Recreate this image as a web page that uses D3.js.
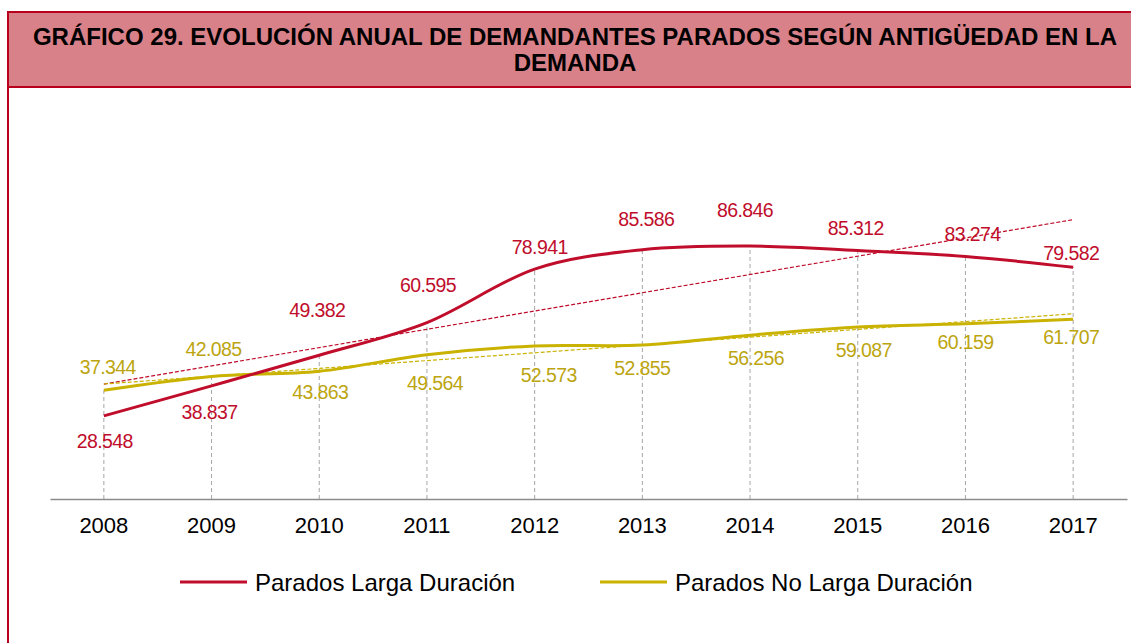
<!DOCTYPE html>
<html>
<head>
<meta charset="utf-8">
<script src="https://cdn.jsdelivr.net/npm/d3@7"></script>
<style>
  body { margin: 0; background: #fff; }
  text { font-family: "Liberation Sans", Arial, sans-serif; }
</style>
</head>
<body>
<div id="chart"></div>
<script>
// Data
var years = ["2008", "2009", "2010", "2011", "2012", "2013", "2014", "2015", "2016", "2017"];
var largaDuracion = [28548, 38837, 49382, 60595, 78941, 85586, 86846, 85312, 83274, 79582];
var noLargaDuracion = [37344, 42085, 43863, 49564, 52573, 52855, 56256, 59087, 60159, 61707];
var seriesNames = ["Parados Larga Duración", "Parados No Larga Duración"];
var titleLines = ["GRÁFICO 29. EVOLUCIÓN ANUAL DE DEMANDANTES PARADOS SEGÚN ANTIGÜEDAD EN LA", "DEMANDA"];

// Label nudges (layout only), [dx, dy] from the point
var nudgeLD = [[1, 32], [-2, 33], [-2, -38], [1, -31], [5, -15], [4, -24], [-5, -29], [-2, -16], [7, -16], [-2, -7]];
var nudgeNLD = [[4, -16], [2, -20], [1, 28], [8, 35], [14, 36], [0, 30], [6, 30], [6, 30], [0, 25], [-2, 25]];

var W = 1131, H = 643;
var red = "#C00D2B", yellow = "#C9B200", yellowText = "#BCA510", border = "#B8001C";

var svg = d3.select("#chart").append("svg")
    .attr("width", W)
    .attr("height", H);

// frame + title box
svg.append("line")
    .attr("x1", 8).attr("x2", 8)
    .attr("y1", 12).attr("y2", H + 5)
    .attr("stroke", border).attr("stroke-width", 2);

svg.append("rect")
    .attr("x", 8).attr("y", 12)
    .attr("width", 1140).attr("height", 75)
    .attr("fill", "#D98189")
    .attr("stroke", border).attr("stroke-width", 2);

svg.selectAll(".title")
    .data(titleLines)
  .enter().append("text")
    .attr("class", "title")
    .attr("x", 575)
    .attr("y", function(d, i) { return 45 + i * 26; })
    .attr("text-anchor", "middle")
    .style("font-size", "24px")
    .style("font-weight", "bold")
    .attr("fill", "#000")
    .text(function(d) { return d; });

// scales
var x = d3.scaleBand()
    .domain(years)
    .range([50, 1127]);

var y = d3.scaleLinear()
    .domain([0, 100000])
    .range([499, 207.8]);

function cx(d, i) { return x(years[i]) + x.bandwidth() / 2; }

// drop lines
var g = svg.append("g");
g.selectAll(".drop")
    .data(years)
  .enter().append("line")
    .attr("class", "drop")
    .attr("x1", function(d, i) { return cx(d, i); })
    .attr("x2", function(d, i) { return cx(d, i); })
    .attr("y1", y(0))
    .attr("y2", function(d, i) { return y(Math.max(largaDuracion[i], noLargaDuracion[i])); })
    .attr("stroke", "#A6A6A6")
    .attr("stroke-width", 1)
    .attr("stroke-dasharray", "4,3");

// x axis
var xAxis = d3.axisBottom(x).tickSize(0).tickPadding(18);
var ax = svg.append("g")
    .attr("transform", "translate(0," + y(0) + ")")
    .call(xAxis);
ax.select(".domain").attr("stroke", "#8C8C8C").attr("stroke-width", 1.5);
ax.selectAll("text")
    .style("font-size", "22px")
    .style("font-family", "'Liberation Sans', Arial, sans-serif")
    .attr("fill", "#000");

// trend lines (least squares)
function trend(vals) {
    var n = vals.length, mx = (n - 1) / 2, my = d3.mean(vals);
    var sxy = 0, sxx = 0;
    vals.forEach(function(v, i) { sxy += (i - mx) * (v - my); sxx += (i - mx) * (i - mx); });
    var b = sxy / sxx, a = my - b * mx;
    return [a, a + b * (n - 1)];
}

function drawTrend(vals, color) {
    var t = trend(vals);
    g.append("line")
        .attr("x1", cx(null, 0)).attr("y1", y(t[0]))
        .attr("x2", cx(null, years.length - 1)).attr("y2", y(t[1]))
        .attr("stroke", color)
        .attr("stroke-width", 1.2)
        .attr("stroke-dasharray", "4,2");
}
drawTrend(largaDuracion, red);
drawTrend(noLargaDuracion, yellow);

// series
var line = d3.line()
    .x(function(d, i) { return cx(d, i); })
    .y(function(d) { return y(d); })
    .curve(d3.curveCardinal.tension(0));

g.append("path")
    .datum(noLargaDuracion)
    .attr("d", line)
    .attr("fill", "none")
    .attr("stroke", yellow)
    .attr("stroke-width", 3);

g.append("path")
    .datum(largaDuracion)
    .attr("d", line)
    .attr("fill", "none")
    .attr("stroke", red)
    .attr("stroke-width", 3);

// data labels
var fmt = function(v) { return d3.format(",")(v).replace(/,/g, "."); };

function drawLabels(vals, nudge, color) {
    g.selectAll(null)
        .data(vals)
      .enter().append("text")
        .attr("x", function(d, i) { return cx(d, i) + nudge[i][0]; })
        .attr("y", function(d, i) { return y(d) + nudge[i][1]; })
        .attr("text-anchor", "middle")
        .style("font-size", "19.5px")
        .style("letter-spacing", "-0.6px")
        .attr("fill", color)
        .text(fmt);
}
drawLabels(largaDuracion, nudgeLD, red);
drawLabels(noLargaDuracion, nudgeNLD, yellowText);

// legend
var legendX = [180, 600];
var legendColors = [red, yellow];
var leg = svg.selectAll(".leg")
    .data(seriesNames)
  .enter().append("g")
    .attr("class", "leg")
    .attr("transform", function(d, i) { return "translate(" + legendX[i] + ",582)"; });
leg.append("line")
    .attr("x1", 0).attr("x2", 67)
    .attr("stroke", function(d, i) { return legendColors[i]; })
    .attr("stroke-width", 3);
leg.append("text")
    .attr("x", 75)
    .attr("y", 8.5)
    .style("font-size", "24px")
    .attr("fill", "#000")
    .text(function(d) { return d; });
</script>
</body>
</html>
